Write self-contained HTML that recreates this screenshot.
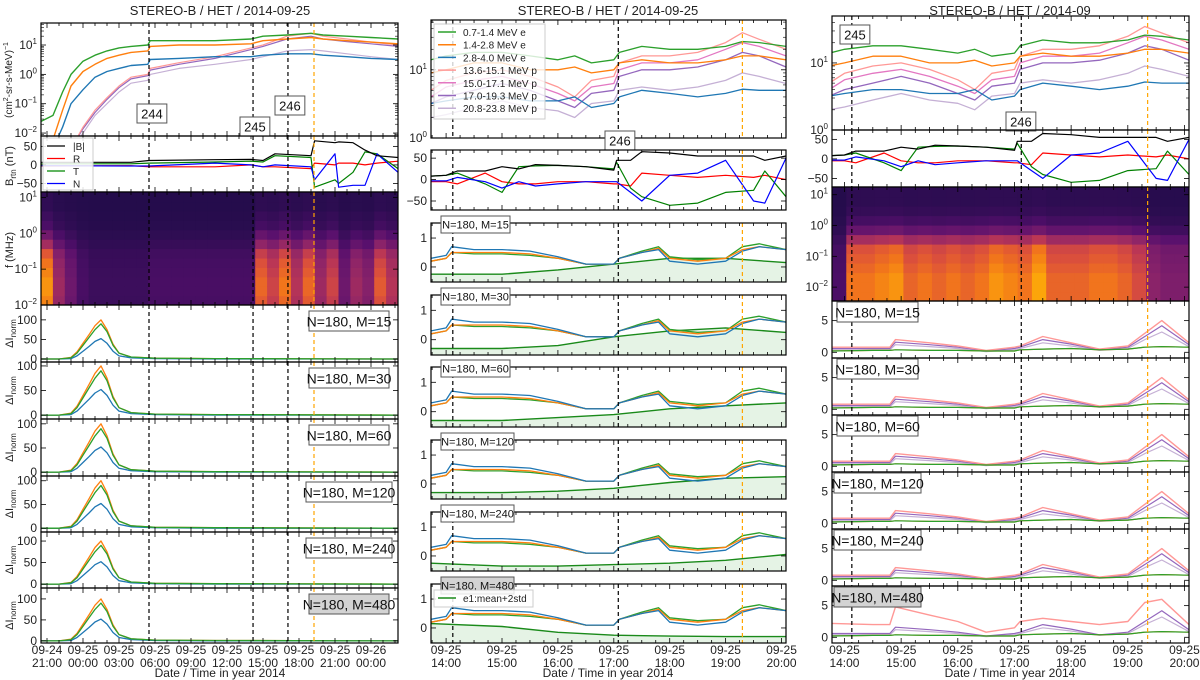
<!DOCTYPE html>
<html><head><meta charset="utf-8"><style>
body{margin:0;background:#fff;}
svg{display:block;font-family:"Liberation Sans",sans-serif;}
</style></head><body>
<svg id="chart" width="1200" height="680" viewBox="0 0 1200 680"></svg>
<script>
// ---------------- DATA ----------------
const c1FluxT=[20.5,21.5,22.3,23,24,25,26,27,28,29.4,29.6,32,35,38,39,41,43,44,46,48,50.25];
const c1FluxGreen=[0.025,0.04,0.25,1,2.8,4.5,6.3,8,9,10,14,14,14,16,20,22,25,22,20,18,16];
const c1FluxOrange=[0.005,0.006,0.06,0.4,1.25,2.2,3.5,4.5,5.6,6.3,9,10,10,11,14,16,18,16,14,12.6,11];
const c1FluxBlue=[0.001,0.003,0.016,0.1,0.3,0.8,1.25,1.6,2,2.2,3.2,3.5,4,4,4.5,5,5,4.5,4,3.5,3.2];
const c1FluxPink=[0.001,0.001,0.001,0.003,0.016,0.06,0.16,0.4,0.8,1,1.6,2.5,4,8,10,20,25,20,16,12.6,10];
const c1FluxPurple=[0.001,0.001,0.001,0.003,0.014,0.05,0.14,0.35,0.7,0.9,1.4,2.2,3.5,7,9,16,20,16,13,11,9];
const c1FluxLilac=[0.001,0.001,0.001,0.0025,0.01,0.04,0.1,0.25,0.5,0.63,1,1.6,2.2,3.2,4,6.3,7,6.3,5,4,3.2];
const c1BT=[20.5,28,29.5,35,38,39,40,43,43.3,45,45.3,46.5,47.5,48.5,50.25];
const c1BMag=[7,7,12,14,15,12,30,25,65,60,62,60,40,25,20];
const c1BR=[-3,-2,-5,-5,0,-5,-5,-10,5,0,5,5,0,5,10];
const c1BT_=[3,3,5,8,10,8,25,20,-60,-40,-50,-20,35,30,-10];
const c1BN=[-2,-3,-3,5,0,-5,0,-5,-40,30,-60,-55,-55,30,-20];
const c1SpecTime=[1,0.5,0.3,0.15,0.1,0.1,0.1,0.1,0.1,0.15,0.15,0.15,0.15,0.15,0.15,0.15,0.15,0.15,0.85,0.7,0.9,0.6,0.85,0.5,0.7,0.3,0.5,0.4,0.8,0.6];
const c1SpecFreq=[0.9,0.95,0.95,0.9,0.85,0.75,0.5,0.3,0.15,0.1,0.05,0.05];
const c1DIT=[20.5,22,23,23.5,24,24.5,25,25.5,26,26.5,27,28,30,35,50.25];
const c1DIGreen=[0,0,3,15,35,55,75,90,70,35,15,5,2,1,0];
const c1DIOrange=[0,0,4,18,40,62,85,100,75,38,15,5,2,1,0];
const c1DIBlue=[0,0,1,8,20,32,45,52,40,20,8,3,1,0,0];
const c1Events=[29.5,38.17,41.08];
const c1Orange=43.25;
const c1TickLabels=[["09-24","21:00"],["09-25","00:00"],["09-25","03:00"],["09-25","06:00"],["09-25","09:00"],["09-25","12:00"],["09-25","15:00"],["09-25","18:00"],["09-25","21:00"],["09-26","00:00"]];
const c1TickHours=[21,24,27,30,33,36,39,42,45,48];
const c2FluxT=[13.73,14,14.5,15,15.5,16,16.3,16.6,17,17.1,17.5,18,18.5,19,19.3,19.6,20.08];
const c2FluxGreen=[14,16,18,18,16,14,16,12.6,14,18,22,20,20,22,26,25,22];
const c2FluxOrange=[9,10,12.6,12.6,10,10,11,9,10,12.6,14,12.6,12.6,14,16,16,14];
const c2FluxBlue=[3.2,3.5,4,4,3.5,3.5,4,2.8,3.2,4,5,4.5,4,4.5,5.2,5,5];
const c2FluxPink=[5,7,9,10,8,5.6,4,7,8,12.6,16,16,18,25,35,28,20];
const c2FluxMagenta=[4,5.6,7,8,6.3,4.5,3.5,5.6,6.3,10,12.6,12.6,14,20,25,22,16];
const c2FluxPurple=[3.2,4,5,6.3,5,3.5,2.8,4.5,5,8,10,10,11,14,18,16,11];
const c2FluxLilac=[2,2.2,2.8,3.5,2.8,2.5,2,3.2,3.5,5,5.6,5,5.6,7,9,8,6.3];
const c2BT=[13.73,14,14.2,14.7,15,15.3,15.6,16,16.5,17,17.05,17.3,17.5,18,18.5,19,19.5,19.7,20.08];
const c2BMag=[8,10,20,20,30,25,35,33,30,22,45,45,65,62,55,55,55,45,55];
const c2BR=[-5,-5,-10,15,-5,-10,-10,-5,-5,-10,-10,-15,15,10,5,10,5,10,0];
const c2BT_=[8,10,15,-10,-30,30,32,33,30,25,40,-20,-40,-60,-55,-30,-25,20,-40];
const c2BN=[-3,-3,5,-5,-20,-5,-15,-10,-5,-5,-5,-30,-50,10,15,45,-50,-55,50];
const c2DIT=[13.73,14,14.1,14.5,15,15.5,16,16.5,17,17.1,17.5,17.8,18,18.5,19,19.3,19.6,20.08];
const c2DIBlue=[0.3,0.4,0.7,0.6,0.6,0.55,0.35,0.1,0.1,0.3,0.5,0.6,0.2,0.1,0.2,0.55,0.7,0.6];
const c2DIOrange=[0.2,0.3,0.5,0.5,0.5,0.45,0.3,0.1,0.1,0.3,0.5,0.65,0.3,0.2,0.3,0.6,0.7,0.6];
const c2DIGreen=[0.2,0.3,0.5,0.45,0.45,0.4,0.3,0.1,0.1,0.3,0.55,0.7,0.35,0.25,0.3,0.7,0.8,0.6];
const c2ThrT=[13.73,15,16,17,18,19,20.08];
const c2Thr=[[-0.25,-0.25,-0.1,0.1,0.3,0.3,0.15],[-0.3,-0.3,-0.2,0.1,0.3,0.4,0.25],[-0.3,-0.3,-0.2,-0.1,0.1,0.2,0.3],[-0.3,-0.3,-0.25,-0.15,0.05,0.2,0.25],[-0.25,-0.35,-0.35,-0.3,-0.25,-0.15,0.05],[0.15,0.05,-0.15,-0.25,-0.28,-0.3,-0.3]];
const c2Events=[14.12,17.08];
const c2Orange=19.3;
const c3Events=[14.13,17.12];
const c3Orange=19.35;
const c3SpecTime=[0.15,0.85,0.85,0.9,0.95,0.8,0.85,0.8,0.85,0.8,0.85,0.95,0.9,0.85,1,0.8,0.8,0.8,0.85,0.85,0.8,0.7,0.4,0.35,0.35];
const c3SpecFreq=[1,1,1,0.95,0.9,0.85,0.6,0.3,0.15,0.08,0.05,0.05];
const c3DIT=[13.78,14.5,14.8,14.9,15.5,16,16.5,17,17.1,17.5,18,18.5,19,19.3,19.6,20.08];
const c3DIPink=[0.8,0.8,0.8,2,1.5,1,0.3,0.8,1,2.5,1.5,0.5,1,3,5,1.5];
const c3DIPurple=[0.6,0.6,0.6,1.6,1.2,0.8,0.2,0.6,0.8,2,1.3,0.4,0.8,2.5,4.2,1.2];
const c3DILilac=[0.4,0.4,0.4,1.2,0.9,0.6,0.1,0.4,0.6,1.5,1,0.3,0.6,2,3.2,0.9];
const c3DIElec=[0.2,0.3,0.3,0.4,0.3,0.3,0.2,0.2,0.4,0.5,0.6,0.4,0.5,0.8,0.9,0.8];
const c3DIPink480=[2.2,2,2,4.8,3.5,2.5,0.8,1.5,2.5,3,2.5,2,2.5,5.5,6,2];
const c23TickHours=[14,15,16,17,18,19,20];
const c23TickLabels=[["09-25","14:00"],["09-25","15:00"],["09-25","16:00"],["09-25","17:00"],["09-25","18:00"],["09-25","19:00"],["09-25","20:00"]];
const mLabels=["N=180, M=15","N=180, M=30","N=180, M=60","N=180, M=120","N=180, M=240","N=180, M=480"];
const legendNames=["0.7-1.4 MeV e","1.4-2.8 MeV e","2.8-4.0 MeV e","13.6-15.1 MeV p","15.0-17.1 MeV p","17.0-19.3 MeV p","20.8-23.8 MeV p"];

// ---------------- HELPERS ----------------
const NS='http://www.w3.org/2000/svg';
const svg=document.getElementById('chart');
const COL={g:'#2ca02c',o:'#ff7f0e',b:'#1f77b4',pk:'#ff9896',mg:'#e377c2',pu:'#9467bd',li:'#c5b0d5'};
let clipId=0;
function el(tag,attrs,parent){const e=document.createElementNS(NS,tag);for(const k in attrs)e.setAttribute(k,attrs[k]);(parent||svg).appendChild(e);return e;}
function lin(d0,d1,r0,r1){return v=>r0+(v-d0)/(d1-d0)*(r1-r0);}
function logs(d0,d1,r0,r1){return v=>r0+(Math.log10(Math.max(v,1e-6))-d0)/(d1-d0)*(r1-r0);}
function makePanel(name,x0,y0,x1,y1){
  const g=el('g',{});
  
  
  const id='clip'+(clipId++);
  const cp=el('clipPath',{id:id},g);el('rect',{x:x0,y:y0,width:x1-x0,height:y1-y0},cp);
  const inner=el('g',{'clip-path':'url(#'+id+')'},g);
  return {g,inner,x0,y0,x1,y1};
}
function frame(p){
  const r=el('rect',{x:p.x0,y:p.y0,width:p.x1-p.x0,height:p.y1-p.y0,fill:'none',stroke:'#000','stroke-width':1.2},p.g);
  
  
}
function series(p,xs,ys,sx,sy,color,w,name,op){
  const d=xs.map((t,i)=>(i?'L':'M')+sx(t).toFixed(1)+','+sy(ys[i]).toFixed(1)).join('');
  const path=el('path',{d:d,fill:'none',stroke:color,'stroke-width':w||1.3,'stroke-opacity':op||1,'stroke-linejoin':'round'},p.inner);
  
  
  return path;
}
function area(p,xs,ys,sx,sy,color,name){
  let d=xs.map((t,i)=>(i?'L':'M')+sx(t).toFixed(1)+','+sy(ys[i]).toFixed(1)).join('');
  d+='L'+sx(xs[xs.length-1]).toFixed(1)+','+p.y1+'L'+sx(xs[0]).toFixed(1)+','+p.y1+'Z';
  const a=el('path',{d:d,fill:color,'fill-opacity':0.12,stroke:'none'},p.inner);
  
  
}
function vline(p,x,color,name){
  const l=el('line',{x1:x,x2:x,y1:p.y0,y2:p.y1,stroke:color,'stroke-width':1.2,'stroke-dasharray':'4,3'},p.g);
  
  
}
function txt(x,y,s,opts,parent){
  const t=el('text',Object.assign({x:x,y:y,'font-size':12,fill:'#222'},opts||{}),parent);
  t.textContent=s;return t;
}
function xticks(p,sx,t0,t1,step,major){
  const g=el('g',{stroke:'#000','stroke-width':0.8},p.g);
  
  
  for(let t=Math.ceil(t0/step)*step;t<=t1+1e-9;t+=step){
    const x=sx(t);const isM=major.some(m=>Math.abs(m-t)<1e-6);const L=isM?5:3;
    el('line',{x1:x,x2:x,y1:p.y1,y2:p.y1-L},g);el('line',{x1:x,x2:x,y1:p.y0,y2:p.y0+L},g);
  }
}
function yticks(p,sy,vals,labels,sup){
  const g=el('g',{},p.g);
  
  
  vals.forEach((v,i)=>{
    const y=sy(v);
    el('line',{x1:p.x0,x2:p.x0+5,y1:y,y2:y,stroke:'#000','stroke-width':0.8},g);
    el('line',{x1:p.x1,x2:p.x1-5,y1:y,y2:y,stroke:'#000','stroke-width':0.8},g);
    if(sup){
      const t=txt(p.x0-4,y+4,'',{'text-anchor':'end','font-size':12},g);
      const a=el('tspan',{},t);a.textContent='10';
      const b=el('tspan',{dy:-5,'font-size':8},t);b.textContent=labels[i];
    } else txt(p.x0-4,y+4,labels[i],{'text-anchor':'end','font-size':12},g);
  });
}
function logMinor(p,sy,d0,d1){
  const g=el('g',{stroke:'#000','stroke-width':0.6},p.g);
  for(let e=Math.floor(d0);e<d1;e++)for(let k=2;k<10;k++){const v=k*Math.pow(10,e);const lv=Math.log10(v);if(lv<d0||lv>d1)continue;const y=sy(v);
    el('line',{x1:p.x0,x2:p.x0+3,y1:y,y2:y},g);el('line',{x1:p.x1,x2:p.x1-3,y1:y,y2:y},g);}
}
function box(x,y,s,opts){
  const g=el('g',{});
  
  
  const fs=opts.fs||13;const w=opts.w||(s.length*fs*0.56+8);const h=fs+6;
  el('rect',{x:x,y:y,width:w,height:h,fill:opts.fill||'#fff',stroke:'#555','stroke-width':1},g);
  txt(x+w/2,y+h-4.5,s,{'text-anchor':'middle','font-size':fs,fill:'#111'},g);
}
function ylabel(x,y,s,sub){
  const t=el('text',{x:0,y:0,'font-size':11,fill:'#222','text-anchor':'middle',transform:'translate('+x+','+y+') rotate(-90)'});
  
  
  const a=el('tspan',{},t);a.textContent=s;
  if(sub){const b=el('tspan',{dy:3,'font-size':8},t);b.textContent=sub[0];if(sub[1]){const c=el('tspan',{dy:-3},t);c.textContent=sub[1];}}
  return t;
}
function inferno(v){
  const st=[[0,[0,0,4]],[0.15,[31,12,72]],[0.3,[85,15,109]],[0.45,[136,34,106]],[0.6,[186,54,85]],[0.7,[221,81,58]],[0.8,[243,120,25]],[0.9,[252,165,10]],[1,[252,255,164]]];
  v=Math.max(0,Math.min(1,v));
  for(let i=1;i<st.length;i++)if(v<=st[i][0]){const a=st[i-1],b=st[i];const f=(v-a[0])/(b[0]-a[0]);
    return 'rgb('+a[1].map((c,j)=>Math.round(c+(b[1][j]-c)*f)).join(',')+')';}
  return 'rgb(252,255,164)';
}
function spec(p,tArr,fArr,name){
  const g=el('g',{},p.inner);
  
  
  const nT=tArr.length,nF=fArr.length;const cw=(p.x1-p.x0)/nT,ch=(p.y1-p.y0)/nF;
  tArr.forEach((tv,i)=>fArr.forEach((fv,j)=>{
    const r=el('rect',{x:(p.x0+i*cw).toFixed(2),y:(p.y1-(j+1)*ch).toFixed(2),width:(cw+0.6).toFixed(2),height:(ch+0.6).toFixed(2),fill:inferno(0.16+tv*fv*0.74)},g);
    
    
  }));
}
function xlabels(sx,y,hours,labels){
  hours.forEach((h,i)=>{const x=sx(h);txt(x,y,labels[i][0],{'text-anchor':'middle','font-size':12});txt(x,y+13,labels[i][1],{'text-anchor':'middle','font-size':12});});
}
function title(x,s){const t=txt(x,15,s,{'text-anchor':'middle','font-size':13});}

// ---------------- COLUMN 1 ----------------
(function(){
  const x0=41,x1=398,sx=lin(20.5,50.25,x0,x1);
  title(220,'STEREO-B / HET / 2014-09-25');
  let p=makePanel('flux-panel-1',x0,23,x1,136);const sy=logs(-2.1,1.75,136,23);
  series(p,c1FluxT,c1FluxLilac,sx,sy,COL.li,1.2,'flux-20.8-23.8-p');
  series(p,c1FluxT,c1FluxPurple,sx,sy,COL.pu,1.2,'flux-17.0-19.3-p');
  series(p,c1FluxT,c1FluxPink,sx,sy,COL.pk,1.2,'flux-13.6-15.1-p');
  series(p,c1FluxT,c1FluxBlue,sx,sy,COL.b,1.4,'flux-2.8-4.0-e');
  series(p,c1FluxT,c1FluxOrange,sx,sy,COL.o,1.4,'flux-1.4-2.8-e');
  series(p,c1FluxT,c1FluxGreen,sx,sy,COL.g,1.4,'flux-0.7-1.4-e');
  c1Events.forEach(t=>vline(p,sx(t),'#000','event-line'));vline(p,sx(c1Orange),'#ffa500','onset-line');
  xticks(p,sx,20.5,50.25,1,c1TickHours);logMinor(p,sy,-2.1,1.75);yticks(p,sy,[0.01,0.1,1,10],['−2','−1','0','1'],true);frame(p);
  const yl=el('text',{x:0,y:0,'font-size':10,fill:'#222','text-anchor':'middle',transform:'translate(12,80) rotate(-90)'});
  
  let a=el('tspan',{},yl);a.textContent='(cm';let b=el('tspan',{dy:-4,'font-size':7},yl);b.textContent='2';let c=el('tspan',{dy:4},yl);c.textContent='-sr-s-MeV)';let d=el('tspan',{dy:-4,'font-size':7},yl);d.textContent='−1';
  box(137,104,'244',{name:'event-label-244',fs:13});box(240,117,'245',{name:'event-label-245',fs:13});box(275,96,'246',{name:'event-label-246',fs:13});
  p=makePanel('b-field-panel-1',x0,136,x1,192);const sb=lin(-73,78,192,136);
  series(p,c1BT,c1BR,sx,sb,'#ff0000',1.2,'b-r');series(p,c1BT,c1BT_,sx,sb,'#008000',1.2,'b-t');series(p,c1BT,c1BN,sx,sb,'#0000ff',1.2,'b-n');series(p,c1BT,c1BMag,sx,sb,'#000',1.2,'b-magnitude');
  c1Events.forEach(t=>vline(p,sx(t),'#000','event-line'));vline(p,sx(c1Orange),'#ffa500','onset-line');
  xticks(p,sx,20.5,50.25,1,c1TickHours);yticks(p,sb,[50,0,-50],['50','0','−50']);frame(p);
  ylabel(13,166,'B',['rtn',' (nT)']);
  const lg=el('g',{});
  el('rect',{x:43,y:138,width:50,height:52,fill:'#fff','fill-opacity':0.85,stroke:'#ccc'},lg);
  [['|B|','#000'],['R','#f00'],['T','#080'],['N','#00f']].forEach((e,i)=>{const y=146+i*12.5;el('line',{x1:47,x2:65,y1:y,y2:y,stroke:e[1],'stroke-width':1.3},lg);txt(73,y+4,e[0],{'font-size':10},lg);});
  p=makePanel('spectrogram-panel-1',x0,192,x1,305);const sf=logs(-2,1.15,305,192);
  spec(p,c1SpecTime,c1SpecFreq,'radio-spectrogram-1');
  c1Events.forEach(t=>vline(p,sx(t),'#000','event-line'));vline(p,sx(c1Orange),'#ffa500','onset-line');
  xticks(p,sx,20.5,50.25,1,c1TickHours);yticks(p,sf,[0.01,0.1,1,10],['−2','−1','0','1'],true);frame(p);
  ylabel(13,250,'f (MHz)');
  const boxes=[[305,362,-7.7,138],[362,419,-8,108],[419,476,-8,110],[476,532,-8,110],[532,588,-9,121],[588,643,-5,126]];
  boxes.forEach((bx,k)=>{
    const q=makePanel('delta-i-panel-1-'+k,x0,bx[0],x1,bx[1]);const s=lin(bx[2],bx[3],bx[1],bx[0]);
    series(q,c1DIT,c1DIOrange,sx,s,COL.o,1.3,'delta-i-orange');series(q,c1DIT,c1DIBlue,sx,s,COL.b,1.3,'delta-i-blue');series(q,c1DIT,c1DIGreen,sx,s,COL.g,1.3,'delta-i-green');
    c1Events.forEach(t=>vline(q,sx(t),'#000','event-line'));vline(q,sx(c1Orange),'#ffa500','onset-line');
    xticks(q,sx,20.5,50.25,1,c1TickHours);yticks(q,s,[0,50,100],['0','50','100']);frame(q);
    ylabel(13,(bx[0]+bx[1])/2,'ΔI',['norm','']);
    box(k==3||k==4?306:309,bx[0]+6,mLabels[k],{name:'method-label',fs:14,w:k==3||k==4?86:80,fill:k==5?'#d3d3d3':'#fff'});
  });
  xlabels(sx,654,c1TickHours,c1TickLabels);
  txt(220,677,'Date / Time in year 2014',{'text-anchor':'middle','font-size':12});
})();

// ---------------- COLUMN 2 ----------------
(function(){
  const x0=431,x1=786,sx=lin(13.73,20.08,x0,x1);
  title(608,'STEREO-B / HET / 2014-09-25');
  let p=makePanel('flux-panel-2',x0,20,x1,138);const sy=logs(0,1.73,138,20);
  const fl=[[c2FluxLilac,COL.li],[c2FluxPurple,COL.pu],[c2FluxMagenta,COL.mg],[c2FluxPink,COL.pk],[c2FluxBlue,COL.b],[c2FluxOrange,COL.o],[c2FluxGreen,COL.g]];
  fl.forEach((f,i)=>series(p,c2FluxT,f[0],sx,sy,f[1],1.3,'flux-series-'+i));
  c2Events.forEach(t=>vline(p,sx(t),'#000','event-line'));vline(p,sx(c2Orange),'#ffa500','onset-line');
  xticks(p,sx,13.73,20.08,0.25,c23TickHours);logMinor(p,sy,0,1.73);yticks(p,sy,[1,10],['0','1'],true);frame(p);
  const lg=el('g',{});
  el('rect',{x:434,y:24,width:111,height:95,fill:'#fff','fill-opacity':0.8,stroke:'#ccc'},lg);
  const lc=[COL.g,COL.o,COL.b,COL.pk,COL.mg,COL.pu,COL.li];
  legendNames.forEach((n,i)=>{const y=32+i*12.7;el('line',{x1:438,x2:456,y1:y,y2:y,stroke:lc[i],'stroke-width':1.5},lg);txt(463,y+4,n,{'font-size':10},lg);});
  box(605,131,'246',{name:'event-label-246',fs:13});
  p=makePanel('b-field-panel-2',x0,150,x1,210);const sb=lin(-71,69,210,150);
  series(p,c2BT,c2BR,sx,sb,'#ff0000',1.2,'b-r');series(p,c2BT,c2BT_,sx,sb,'#008000',1.2,'b-t');series(p,c2BT,c2BN,sx,sb,'#0000ff',1.2,'b-n');series(p,c2BT,c2BMag,sx,sb,'#000',1.2,'b-magnitude');
  c2Events.forEach(t=>vline(p,sx(t),'#000','event-line'));vline(p,sx(c2Orange),'#ffa500','onset-line');
  xticks(p,sx,13.73,20.08,0.25,c23TickHours);yticks(p,sb,[50,0,-50],['50','0','−50']);frame(p);
  const boxes=[[223,282],[295,355],[367,427],[440,499],[512,571],[584,643]];
  boxes.forEach((bx,k)=>{
    const q=makePanel('delta-i-panel-2-'+k,x0,bx[0],x1,bx[1]);const s=lin(-0.52,1.52,bx[1],bx[0]);
    area(q,c2ThrT,c2Thr[k],sx,s,COL.g,'threshold-fill');
    series(q,c2ThrT,c2Thr[k],sx,s,'#1a8a1a',1.4,'threshold-mean-2std');
    series(q,c2DIT,c2DIGreen,sx,s,COL.g,1.3,'delta-i-green');series(q,c2DIT,c2DIOrange,sx,s,COL.o,1.3,'delta-i-orange');series(q,c2DIT,c2DIBlue,sx,s,COL.b,1.3,'delta-i-blue');
    c2Events.forEach(t=>vline(q,sx(t),'#000','event-line'));vline(q,sx(c2Orange),'#ffa500','onset-line');
    xticks(q,sx,13.73,20.08,0.25,c23TickHours);yticks(q,s,[0,1],['0','1']);frame(q);
    box(441,bx[0]-7,mLabels[k],{name:'method-label',fs:11,w:k>=3?73:69,fill:k==5?'#d3d3d3':'#fff'});
  });
  const lg2=el('g',{});
  el('rect',{x:434,y:590,width:99,height:17,fill:'#fff','fill-opacity':0.85,stroke:'#ccc'},lg2);
  el('line',{x1:438,x2:456,y1:598,y2:598,stroke:'#1a8a1a','stroke-width':1.5},lg2);txt(463,602,'e1:mean+2std',{'font-size':10},lg2);
  xlabels(sx,654,c23TickHours,c23TickLabels);
  txt(608,677,'Date / Time in year 2014',{'text-anchor':'middle','font-size':12});
})();

// ---------------- COLUMN 3 ----------------
(function(){
  const x0=832,x1=1189,sx=lin(13.78,20.08,x0,x1);
  title(1010,'STEREO-B / HET / 2014-09');
  let p=makePanel('flux-panel-3',x0,16,x1,130);const sy=logs(0,1.7,130,16);
  const fl=[[c2FluxLilac,COL.li],[c2FluxPurple,COL.pu],[c2FluxMagenta,COL.mg],[c2FluxPink,COL.pk],[c2FluxBlue,COL.b],[c2FluxOrange,COL.o],[c2FluxGreen,COL.g]];
  fl.forEach((f,i)=>series(p,c2FluxT,f[0],sx,sy,f[1],1.3,'flux-series-'+i));
  c3Events.forEach(t=>vline(p,sx(t),'#000','event-line'));vline(p,sx(c3Orange),'#ffa500','onset-line');
  xticks(p,sx,13.78,20.08,0.25,c23TickHours);logMinor(p,sy,0,1.7);yticks(p,sy,[1,10],['0','1'],true);frame(p);
  box(840,25,'245',{name:'event-label-245',fs:13});box(1006,112,'246',{name:'event-label-246',fs:13});
  p=makePanel('b-field-panel-3',x0,130,x1,187);const sb=lin(-72,74,187,130);
  series(p,c2BT,c2BR,sx,sb,'#ff0000',1.2,'b-r');series(p,c2BT,c2BT_,sx,sb,'#008000',1.2,'b-t');series(p,c2BT,c2BN,sx,sb,'#0000ff',1.2,'b-n');series(p,c2BT,c2BMag,sx,sb,'#000',1.2,'b-magnitude');
  c3Events.forEach(t=>vline(p,sx(t),'#000','event-line'));vline(p,sx(c3Orange),'#ffa500','onset-line');
  xticks(p,sx,13.78,20.08,0.25,c23TickHours);yticks(p,sb,[50,0,-50],['50','0','−50']);frame(p);
  p=makePanel('spectrogram-panel-3',x0,187,x1,301);const sf=logs(-2.45,1.25,301,187);
  spec(p,c3SpecTime,c3SpecFreq,'radio-spectrogram-3');
  c3Events.forEach(t=>vline(p,sx(t),'#000','event-line'));vline(p,sx(c3Orange),'#ffa500','onset-line');
  xticks(p,sx,13.78,20.08,0.25,c23TickHours);yticks(p,sf,[0.01,0.1,1,10],['−2','−1','0','1'],true);frame(p);
  const boxes=[[301,358],[358,415],[415,472],[472,529],[529,586],[586,643]];
  boxes.forEach((bx,k)=>{
    const q=makePanel('delta-i-panel-3-'+k,x0,bx[0],x1,bx[1]);const s=lin(-0.9,8.1,bx[1],bx[0]);
    const pk=k==5?c3DIPink480:c3DIPink;
    series(q,c3DIT,c3DILilac,sx,s,COL.li,1.2,'delta-i-lilac');series(q,c3DIT,c3DIPurple,sx,s,COL.pu,1.2,'delta-i-purple');series(q,c3DIT,pk,sx,s,COL.pk,1.4,'delta-i-pink');
    series(q,c3DIT,c3DIElec,sx,s,COL.o,1.2,'delta-i-orange');series(q,c3DIT,c3DIElec,sx,s,COL.g,1.2,'delta-i-green');
    c3Events.forEach(t=>vline(q,sx(t),'#000','event-line'));vline(q,sx(c3Orange),'#ffa500','onset-line');
    xticks(q,sx,13.78,20.08,0.25,c23TickHours);yticks(q,s,[0,5],['0','5']);frame(q);
    box(k>=3?834:837,bx[0]+1,mLabels[k],{name:'method-label',fs:14,w:k>=3?87:81,fill:k==5?'#d3d3d3':'#fff'});
  });
  xlabels(sx,654,c23TickHours,c23TickLabels);
  txt(1010,677,'Date / Time in year 2014',{'text-anchor':'middle','font-size':12});
})();
</script>
</body></html>
